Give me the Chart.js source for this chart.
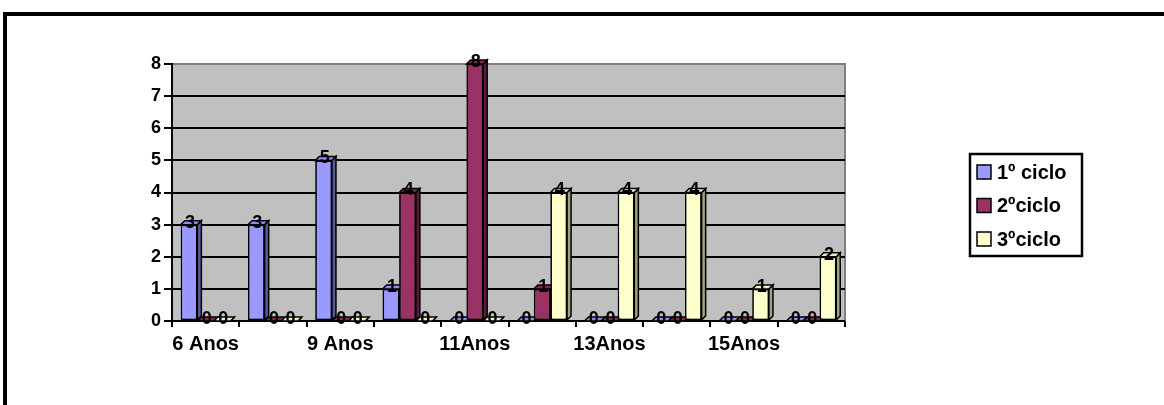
<!DOCTYPE html>
<html>
<head>
<meta charset="utf-8">
<script src="https://cdn.jsdelivr.net/npm/chart.js@4.4.1/dist/chart.umd.min.js"></script>
<style>
html, body { margin:0; padding:0; background:#fff; overflow:hidden; }
#frame { position:absolute; left:3px; top:12px; width:1200px; height:500px; border:4px solid #000; }
#wrap { position:absolute; left:0; top:0; width:1164px; height:405px; }
</style>
</head>
<body>
<div id="frame"></div>
<div id="wrap"><canvas id="myChart" width="1164" height="405"></canvas></div>
<script>
// data
var categories = ['6 Anos', '7/8 Anos', '9 Anos', '10 Anos', '11Anos', '12Anos', '13Anos', '14Anos', '15Anos', '16Anos'];
var ciclo1 = [3, 3, 5, 1, 0, 0, 0, 0, 0, 0];
var ciclo2 = [0, 0, 0, 4, 8, 1, 0, 0, 0, 0];
var ciclo3 = [0, 0, 0, 0, 0, 4, 4, 4, 1, 2];
var seriesNames = ['1º ciclo', '2ºciclo', '3ºciclo'];
var yTicks = [0, 1, 2, 3, 4, 5, 6, 7, 8];

var FONT = '"Liberation Sans", Arial, sans-serif';
var fronts = ['#9999ff', '#993366', '#ffffcc'];
var sides = ['#5a5a9e', '#5a1c3c', '#a3a37e'];
var tops = ['#8c8cf0', '#86294f', '#f0f0bc'];
var depth = 4;

// grey back wall
var wallPlugin = {
    id: 'wall',
    beforeDraw: function(chart) {
        var a = chart.chartArea, ctx = chart.ctx;
        ctx.save();
        ctx.fillStyle = '#c0c0c0';
        ctx.fillRect(a.left, a.top, a.right - a.left, a.bottom - a.top);
        ctx.strokeStyle = '#808080';
        ctx.lineWidth = 2;
        ctx.strokeRect(a.left, a.top, a.right - a.left, a.bottom - a.top);
        ctx.restore();
    }
};

// redraw bars left to right with side and top faces so they look 3D,
// then put the value labels on top
var depthPlugin = {
    id: 'depth',
    afterDatasetsDraw: function(chart) {
        var ctx = chart.ctx;
        var n = chart.data.labels.length;
        ctx.save();
        for (var j = 0; j < n; j++) {
            chart.data.datasets.forEach(function(ds, i) {
                var el = chart.getDatasetMeta(i).data[j];
                el.draw(ctx);
                var l = el.x - el.width / 2, r = el.x + el.width / 2;
                var t = Math.min(el.y, el.base), b = el.base;
                ctx.strokeStyle = '#000';
                ctx.lineWidth = 1.5;
                ctx.beginPath();
                ctx.moveTo(r, t); ctx.lineTo(r + depth, t - depth);
                ctx.lineTo(r + depth, b - depth); ctx.lineTo(r, b); ctx.closePath();
                ctx.fillStyle = sides[i]; ctx.fill(); ctx.stroke();
                ctx.beginPath();
                ctx.moveTo(l, t); ctx.lineTo(l + depth, t - depth);
                ctx.lineTo(r + depth, t - depth); ctx.lineTo(r, t); ctx.closePath();
                ctx.fillStyle = tops[i]; ctx.fill(); ctx.stroke();
            });
        }
        ctx.font = 'bold 18px ' + FONT;
        ctx.fillStyle = '#000';
        ctx.textAlign = 'center';
        ctx.textBaseline = 'middle';
        chart.data.datasets.forEach(function(ds, i) {
            chart.getDatasetMeta(i).data.forEach(function(el, j) {
                ctx.fillText(String(ds.data[j]), el.x + 1, el.y - 2);
            });
        });
        ctx.restore();
    }
};

// boxed legend on the right
var legendPlugin = {
    id: 'boxLegend',
    afterDraw: function(chart) {
        var ctx = chart.ctx, a = chart.chartArea;
        var x = a.right + 125, y = a.top + 90, w = 112, h = 102;
        ctx.save();
        ctx.fillStyle = '#fff';
        ctx.fillRect(x, y, w, h);
        ctx.strokeStyle = '#000';
        ctx.lineWidth = 2.5;
        ctx.strokeRect(x, y, w, h);
        ctx.font = 'bold 20px ' + FONT;
        ctx.textBaseline = 'middle';
        ctx.textAlign = 'left';
        chart.data.datasets.forEach(function(ds, i) {
            var cy = y + 18 + i * 33.5;
            ctx.fillStyle = fronts[i];
            ctx.fillRect(x + 7, cy - 7, 14, 14);
            ctx.lineWidth = 1.5;
            ctx.strokeRect(x + 7, cy - 7, 14, 14);
            ctx.fillStyle = '#000';
            ctx.fillText(ds.label, x + 27, cy + 1);
        });
        ctx.restore();
    }
};

var ctx = document.getElementById('myChart').getContext('2d');
var myChart = new Chart(ctx, {
    type: 'bar',
    data: {
        labels: categories,
        datasets: [
            { label: seriesNames[0], data: ciclo1, backgroundColor: fronts[0] },
            { label: seriesNames[1], data: ciclo2, backgroundColor: fronts[1] },
            { label: seriesNames[2], data: ciclo3, backgroundColor: fronts[2] }
        ]
    },
    plugins: [wallPlugin, depthPlugin, legendPlugin],
    options: {
        responsive: false,
        animation: false,
        layout: { padding: { left: 0, right: 319, top: 64, bottom: 0 } },
        datasets: {
            bar: {
                categoryPercentage: 0.74,
                barPercentage: 1,
                borderColor: '#000',
                borderWidth: 1.5,
                borderSkipped: false,
                clip: false
            }
        },
        plugins: {
            legend: { display: false },
            tooltip: { enabled: false }
        },
        scales: {
            x: {
                grid: { offset: true, drawOnChartArea: false, color: '#000', lineWidth: 2, tickLength: 6 },
                border: { display: false },
                ticks: {
                    autoSkip: false,
                    maxRotation: 0,
                    padding: 5,
                    color: '#000',
                    font: { family: FONT, size: 20, weight: 'bold' },
                    callback: function(v, i) { return i % 2 === 0 ? this.getLabelForValue(v) : ''; }
                },
                afterFit: function(s) { s.height = 84; }
            },
            y: {
                min: 0,
                max: 8,
                afterBuildTicks: function(s) { s.ticks = yTicks.map(function(v) { return { value: v }; }); },
                grid: {
                    color: function(c) { return c.tick && c.tick.value === 8 ? '#808080' : '#000'; },
                    tickColor: '#000',
                    lineWidth: 2,
                    tickLength: 8
                },
                border: { color: '#000', width: 2 },
                ticks: {
                    padding: 3,
                    color: '#000',
                    font: { family: FONT, size: 18, weight: 'bold' }
                },
                afterFit: function(s) { s.width = 172; }
            }
        }
    }
});
</script>
</body>
</html>
